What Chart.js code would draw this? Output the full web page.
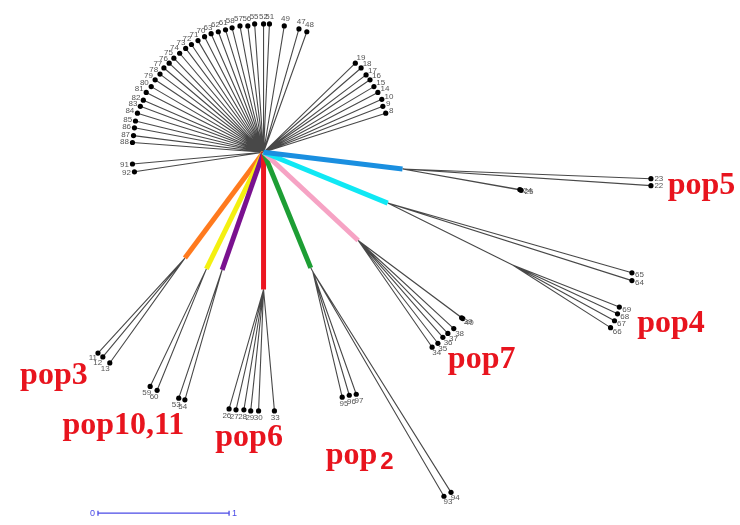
<!DOCTYPE html>
<html>
<head>
<meta charset="utf-8">
<script src="https://cdn.jsdelivr.net/npm/chart.js@4.4.1/dist/chart.umd.min.js"></script>
<style>
  html, body { margin: 0; padding: 0; background: #ffffff; }
  #wrap { width: 740px; height: 525px; position: relative; }
</style>
</head>
<body>
<div id="wrap"><canvas id="tree"></canvas></div>
<script>
// Unrooted tree, coordinates in branch-length units with the root at (0, 0).

const rootNode = { x: 0, y: 0 };

// Tips hanging directly off the root
const fanTips = [
  { id: '51', x: 0.045, y: 0.985 }, { id: '52', x: 0.000, y: 0.985 },
  { id: '55', x: -0.068, y: 0.985 }, { id: '56', x: -0.120, y: 0.970 },
  { id: '57', x: -0.180, y: 0.970 }, { id: '58', x: -0.240, y: 0.955 },
  { id: '61', x: -0.290, y: 0.940 }, { id: '62', x: -0.345, y: 0.925 },
  { id: '63', x: -0.400, y: 0.910 }, { id: '70', x: -0.450, y: 0.887 },
  { id: '71', x: -0.500, y: 0.857 }, { id: '72', x: -0.550, y: 0.827 },
  { id: '73', x: -0.594, y: 0.797 }, { id: '74', x: -0.640, y: 0.760 },
  { id: '75', x: -0.684, y: 0.722 }, { id: '76', x: -0.720, y: 0.684 },
  { id: '77', x: -0.760, y: 0.647 }, { id: '78', x: -0.790, y: 0.600 },
  { id: '79', x: -0.827, y: 0.556 }, { id: '80', x: -0.857, y: 0.504 },
  { id: '81', x: -0.895, y: 0.459 }, { id: '82', x: -0.917, y: 0.400 },
  { id: '83', x: -0.940, y: 0.353 }, { id: '84', x: -0.962, y: 0.300 },
  { id: '85', x: -0.977, y: 0.240 }, { id: '86', x: -0.985, y: 0.188 },
  { id: '87', x: -0.992, y: 0.128 }, { id: '88', x: -1.000, y: 0.075 },
  { id: '91', x: -1.000, y: -0.090 }, { id: '92', x: -0.985, y: -0.150 },
  { id: '49', x: 0.158, y: 0.970 }, { id: '47', x: 0.270, y: 0.947 },
  { id: '48', x: 0.330, y: 0.925 },
  { id: '19', x: 0.700, y: 0.684 }, { id: '18', x: 0.744, y: 0.647 },
  { id: '17', x: 0.782, y: 0.594 }, { id: '16', x: 0.812, y: 0.556 },
  { id: '15', x: 0.842, y: 0.504 }, { id: '14', x: 0.872, y: 0.459 },
  { id: '10', x: 0.902, y: 0.406 }, { id: '9', x: 0.910, y: 0.353 },
  { id: '8', x: 0.932, y: 0.300 }
];

// pop5
const pop5Stem = { x: 1.060, y: -0.128 };
const pop5Tips = [
  { id: '23', x: 2.955, y: -0.203 }, { id: '22', x: 2.955, y: -0.256 },
  { id: '24', x: 1.955, y: -0.286 }, { id: '25', x: 1.965, y: -0.292 }
];

// pop4
const pop4Stem = { x: 0.947, y: -0.390 };
const pop4StemTips = [
  { id: '65', x: 2.810, y: -0.925 }, { id: '64', x: 2.810, y: -0.985 }
];
const pop4Node = { x: 1.900, y: -0.865 };
const pop4NodeTips = [
  { id: '69', x: 2.714, y: -1.188 }, { id: '68', x: 2.700, y: -1.240 },
  { id: '67', x: 2.677, y: -1.293 }, { id: '66', x: 2.647, y: -1.346 }
];

// pop7
const pop7Stem = { x: 0.722, y: -0.677 };
const pop7Tips = [
  { id: '39', x: 1.511, y: -1.270 }, { id: '40', x: 1.520, y: -1.276 },
  { id: '38', x: 1.451, y: -1.353 }, { id: '37', x: 1.406, y: -1.390 },
  { id: '36', x: 1.368, y: -1.420 }, { id: '35', x: 1.330, y: -1.466 },
  { id: '34', x: 1.286, y: -1.496 }
];

// pop2
const pop2Stem = { x: 0.360, y: -0.887 };
const pop2Node = { x: 0.376, y: -0.917 };
const pop2Tips = [
  { id: '95', x: 0.600, y: -1.880 }, { id: '96', x: 0.654, y: -1.865 },
  { id: '97', x: 0.707, y: -1.857 },
  { id: '93', x: 1.376, y: -2.640 }, { id: '94', x: 1.430, y: -2.610 }
];

// pop6
const pop6Stem = { x: 0.000, y: -1.053 };
const pop6Tips = [
  { id: '26', x: -0.263, y: -1.970 }, { id: '27', x: -0.210, y: -1.977 },
  { id: '28', x: -0.150, y: -1.977 }, { id: '29', x: -0.098, y: -1.985 },
  { id: '30', x: -0.038, y: -1.985 }, { id: '33', x: 0.083, y: -1.985 }
];

// pop10 and pop11
const pop10Stem = { x: -0.316, y: -0.902 };
const pop10Tips = [
  { id: '53', x: -0.647, y: -1.887 }, { id: '54', x: -0.600, y: -1.900 }
];
const pop11Stem = { x: -0.436, y: -0.895 };
const pop11Tips = [
  { id: '59', x: -0.865, y: -1.797 }, { id: '60', x: -0.812, y: -1.827 }
];

// pop3
const pop3Stem = { x: -0.600, y: -0.812 };
const pop3Tips = [
  { id: '11', x: -1.263, y: -1.541 }, { id: '12', x: -1.226, y: -1.571 },
  { id: '13', x: -1.173, y: -1.617 }
];

// Group names and where they sit
const groupNames = ['pop5', 'pop4', 'pop7', 'pop3', 'pop10,11', 'pop6', 'pop2'];
const groupNameAt = [
  { x: 3.083, y: -0.323 }, { x: 2.850, y: -1.383 }, { x: 1.406, y: -1.654 },
  { x: -1.857, y: -1.782 }, { x: -1.534, y: -2.165 }, { x: -0.368, y: -2.256 },
  { x: 0.474, y: -2.391 }
];

// Scale bar: one branch-length unit
const scaleBarLength = 1;
const scaleBarStart = { x: -1.263, y: -2.770 };

// ---- build line segments ----
const stems = [
  { node: pop5Stem, color: '#1a8fe0' },
  { node: pop4Stem, color: '#10e8f4' },
  { node: pop7Stem, color: '#f6a3c4' },
  { node: pop2Stem, color: '#1d9e34' },
  { node: pop6Stem, color: '#ec1520' },
  { node: pop10Stem, color: '#7a118f' },
  { node: pop11Stem, color: '#f4f010' },
  { node: pop3Stem, color: '#ff7a1e' }
];

const tipEdges = [];   // [parent, tip]
fanTips.forEach(t => tipEdges.push([rootNode, t]));
pop5Tips.forEach(t => tipEdges.push([pop5Stem, t]));
pop4StemTips.forEach(t => tipEdges.push([pop4Stem, t]));
tipEdges.push([pop4Stem, pop4Node]);
pop4NodeTips.forEach(t => tipEdges.push([pop4Node, t]));
pop7Tips.forEach(t => tipEdges.push([pop7Stem, t]));
tipEdges.push([pop2Stem, pop2Node]);
pop2Tips.forEach(t => tipEdges.push([pop2Node, t]));
pop6Tips.forEach(t => tipEdges.push([pop6Stem, t]));
pop10Tips.forEach(t => tipEdges.push([pop10Stem, t]));
pop11Tips.forEach(t => tipEdges.push([pop11Stem, t]));
pop3Tips.forEach(t => tipEdges.push([pop3Stem, t]));

const edgePoints = [];
tipEdges.forEach(([a, b]) => {
  edgePoints.push({ x: a.x, y: a.y }, { x: b.x, y: b.y }, { x: b.x, y: null });
});

const allTips = tipEdges.filter(([a, b]) => b.id).map(([a, b]) => ({ parent: a, tip: b }));

const datasets = [];
datasets.push({
  label: 'tips',
  data: allTips.map(e => ({ x: e.tip.x, y: e.tip.y })),
  showLine: false,
  pointRadius: 2.6,
  pointBackgroundColor: '#000',
  pointBorderWidth: 0,
  order: 0
});
stems.forEach(s => {
  datasets.push({
    label: 'stem',
    data: [{ x: rootNode.x, y: rootNode.y }, { x: s.node.x, y: s.node.y }],
    showLine: true,
    borderColor: s.color,
    borderWidth: 5,
    borderCapStyle: 'butt',
    pointRadius: 0,
    order: 1
  });
});
datasets.push({
  label: 'branches',
  data: edgePoints,
  showLine: true,
  spanGaps: false,
  borderColor: 'rgba(40,40,40,0.85)',
  borderWidth: 1.1,
  pointRadius: 0,
  order: 2
});
datasets.push({
  label: 'scale',
  data: [
    { x: scaleBarStart.x, y: scaleBarStart.y },
    { x: scaleBarStart.x + scaleBarLength, y: scaleBarStart.y }
  ],
  showLine: true,
  borderColor: '#4b4be6',
  borderWidth: 1.3,
  pointStyle: 'line',
  rotation: 90,
  pointRadius: 2.5,
  pointBorderColor: '#4b4be6',
  pointBorderWidth: 1.3,
  order: 3
});

// ---- text drawing ----
const textPlugin = {
  id: 'treeText',
  afterDatasetsDraw(chart) {
    const ctx = chart.ctx;
    const xs = chart.scales.x, ys = chart.scales.y;
    const px = p => ({ x: xs.getPixelForValue(p.x), y: ys.getPixelForValue(p.y) });
    ctx.save();

    // tip labels, horizontal, pushed outwards along the branch direction
    ctx.font = '8px "Liberation Sans", Arial, sans-serif';
    ctx.fillStyle = '#555';
    ctx.textAlign = 'center';
    ctx.textBaseline = 'middle';
    allTips.forEach(({ parent, tip }) => {
      const a = px(parent), b = px(tip);
      let dx = b.x - a.x, dy = b.y - a.y;
      const len = Math.hypot(dx, dy) || 1;
      dx /= len; dy /= len;
      const w = ctx.measureText(tip.id).width, h = 7;
      const cx = b.x + dx * 3.5 + dx * w / 2;
      const cy = b.y + dy * 3.5 + dy * h / 2;
      ctx.fillText(tip.id, cx, cy);
    });

    // group names
    ctx.fillStyle = '#e8141e';
    ctx.textAlign = 'left';
    ctx.textBaseline = 'alphabetic';
    groupNames.forEach((name, i) => {
      const p = px(groupNameAt[i]);
      if (name === 'pop2') {
        ctx.font = 'bold 32px "Liberation Serif", "Times New Roman", serif';
        ctx.fillText('pop', p.x, p.y);
        const w = ctx.measureText('pop').width;
        ctx.font = 'bold 24px "Liberation Sans", Arial, sans-serif';
        ctx.fillText('2', p.x + w + 3, p.y + 5);
      } else {
        ctx.font = 'bold 32px "Liberation Serif", "Times New Roman", serif';
        ctx.fillText(name, p.x, p.y);
      }
    });

    // scale bar ticks
    ctx.fillStyle = '#4b4be6';
    ctx.font = '9px "Liberation Sans", Arial, sans-serif';
    ctx.textBaseline = 'middle';
    const s0 = px(scaleBarStart);
    const s1 = px({ x: scaleBarStart.x + scaleBarLength, y: scaleBarStart.y });
    ctx.textAlign = 'right';
    ctx.fillText('0', s0.x - 3, s0.y);
    ctx.textAlign = 'left';
    ctx.fillText(String(scaleBarLength), s1.x + 3, s1.y);
    ctx.restore();
  }
};

new Chart(document.getElementById('tree'), {
  type: 'scatter',
  data: { datasets },
  options: {
    responsive: true,
    maintainAspectRatio: false,
    animation: false,
    layout: { padding: 0 },
    plugins: { legend: { display: false }, tooltip: { enabled: false } },
    scales: {
      x: { type: 'linear', display: false, min: -1.970, max: 3.594 },
      y: { type: 'linear', display: false, min: -2.820, max: 1.128 }
    }
  },
  plugins: [textPlugin]
});
</script>
</body>
</html>
